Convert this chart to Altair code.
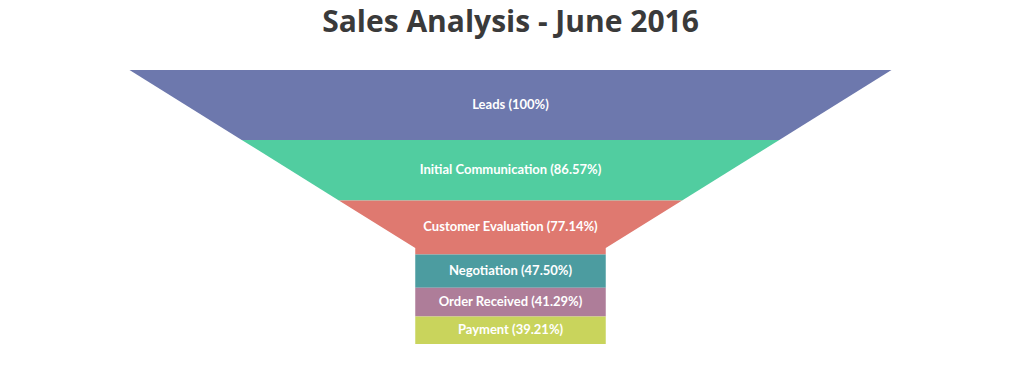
import altair as alt
import pandas as pd

stages = ["Leads", "Initial Communication", "Customer Evaluation",
          "Negotiation", "Order Received", "Payment"]
values = [1400, 1212, 1080, 665, 578, 549]
colors = ["#6D78AD", "#51CDA0", "#DF7970", "#4C9CA0", "#AE7D99", "#C9D45C"]
title_text = "Sales Analysis - June 2016"

NECK_HEIGHT = 0.35   # fraction of funnel height
NECK_WIDTH = 0.25    # fraction of top width
W, H = 1021, 370
FUNNEL_TOP, FUNNEL_H, FUNNEL_W = 70, 274, 762   # layout in pixels

total = float(sum(values))
neck_start = total * (1 - NECK_HEIGHT)


def half_width(y):
    if y >= neck_start:
        return NECK_WIDTH / 2
    t = y / neck_start
    return 0.5 + (NECK_WIDTH / 2 - 0.5) * t


rows = []
labels = []
cum = 0.0
for i, (s, v) in enumerate(zip(stages, values)):
    y0, y1 = cum, cum + v
    ys = [y0]
    if y0 < neck_start < y1:
        ys.append(neck_start)
    ys.append(y1)
    for k, y in enumerate(ys):
        hw = half_width(y)
        rows.append({"stage": s, "yv": float(y), "xl": float(-hw), "xr": float(hw)})
    pct = "100" if i == 0 else f"{v / values[0] * 100:.2f}"
    labels.append({"stage": s, "ym": (y0 + y1) / 2, "label": f"{s} ({pct}%)"})
    cum = y1

poly = pd.DataFrame(rows)
lab = pd.DataFrame(labels)

unit = total / FUNNEL_H
xscale = alt.Scale(domain=[-(W / 2) / FUNNEL_W, (W / 2) / FUNNEL_W], nice=False, zero=False)
yscale = alt.Scale(domain=[-FUNNEL_TOP * unit, (H - FUNNEL_TOP) * unit],
                   reverse=True, nice=False, zero=False)

areas = alt.Chart(poly).mark_area(orient="horizontal").encode(
    x=alt.X("xl:Q", scale=xscale, axis=None, stack=None),
    x2="xr:Q",
    y=alt.Y("yv:Q", scale=yscale, axis=None),
    color=alt.Color("stage:N", scale=alt.Scale(domain=stages, range=colors), legend=None),
)

text = alt.Chart(lab).mark_text(
    color="white", font="Lato", fontWeight="bold", fontSize=13,
    align="center", baseline="middle"
).encode(
    x=alt.value(W / 2),
    y=alt.Y("ym:Q", scale=yscale, axis=None),
    text="label:N",
)

title = alt.Chart(pd.DataFrame({"t": [title_text]})).mark_text(
    font="Open Sans", fontSize=30, fontWeight="bold", color="#3A3A3A",
    align="center", baseline="alphabetic"
).encode(x=alt.value(W / 2), y=alt.value(32), text="t:N")

chart = alt.layer(areas, text, title).properties(
    width=W,
    height=H,
    autosize=alt.AutoSizeParams(type="fit", contains="padding"),
    padding=0,
).configure_view(stroke=None)

chart.save("out.html", embed_options={"renderer": "svg", "actions": False})
